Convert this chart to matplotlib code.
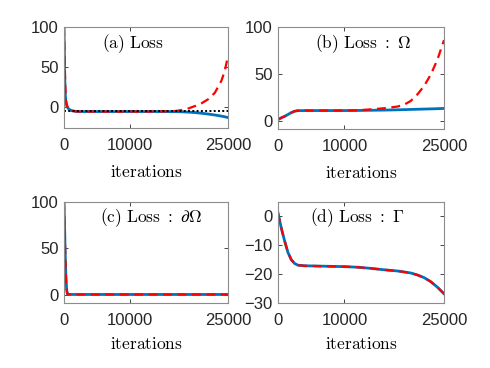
import matplotlib
matplotlib.use("Agg")
import matplotlib.pyplot as plt

plt.rcParams["mathtext.fontset"] = "cm"
plt.rcParams["font.family"] = ["Liberation Sans", "DejaVu Sans"]

BLUE = "#0072BD"
RED = "#FF0000"
GRAY = "#262626"

# ---------------------------------------------------------------------------
# data
# ---------------------------------------------------------------------------
# (a) total loss
iters_a = [0, 100, 200, 300, 500, 800, 1200, 2000, 4000, 8000, 12000, 15000,
           17000, 18000, 19000, 20000, 21000, 22000, 23000, 24000, 24500, 25000]
loss_a_blue = [100, 40, 15, 5, 0, -3, -4.5, -5.5, -5.5, -5.5, -5.5, -5.5,
               -5.6, -5.8, -6.2, -6.8, -7.6, -8.6, -9.8, -11.2, -12.0, -13.0]
loss_a_red = [100, 60, 25, 8, 1, -3, -4.5, -5.5, -5.5, -5.5, -5.5, -5.3,
              -4.8, -3.5, -1.5, 1.5, 5, 10, 18, 33, 45, 64]
loss_a_ref = -5

# (b) loss on Omega
iters_b = [0, 500, 1000, 1500, 2000, 2500, 3000, 4000, 6000, 8000, 10000,
           12000, 14000, 16000, 18000, 19000, 20000, 21000, 22000, 23000,
           24000, 25000]
loss_b_blue = [1, 3, 4.5, 6.5, 8.5, 10, 10.6, 10.7, 10.7, 10.7, 10.7, 10.8,
               11, 11.2, 11.5, 11.7, 11.9, 12.1, 12.3, 12.5, 12.7, 13]
loss_b_red = [1, 3, 4.5, 6.5, 8.5, 10, 10.6, 10.7, 10.7, 10.7, 10.8, 11,
              12, 13.2, 15, 17, 21, 28, 37, 49, 65, 86]

# (c) loss on boundary
iters_c = [0, 100, 200, 300, 400, 500, 700, 1000, 25000]
loss_c = [100, 70, 40, 18, 6, 1, 0.3, 0.2, 0.2]

# (d) loss on Gamma
iters_d = [0, 300, 600, 1000, 1500, 2000, 2500, 3000, 4000, 6000, 8000,
           10000, 12000, 14000, 16000, 18000, 20000, 21000, 22000, 23000,
           24000, 25000]
loss_d = [1.2, -2, -5, -8.5, -12.5, -15, -16.3, -16.9, -17.1, -17.2, -17.3,
          -17.4, -17.6, -18, -18.5, -18.9, -19.6, -20.3, -21.2, -22.6, -24.5,
          -26.8]

xticks = [0, 10000, 25000]

fig = plt.figure(figsize=(4.9, 3.68), dpi=100)

W, H = 490.0, 368.0
boxes = {
    "a": (64, 27, 228, 128),
    "b": (278, 27, 444, 129),
    "c": (64, 202, 228, 303),
    "d": (278, 202, 444, 303),
}


def make_axes(key):
    l, t, r, b = boxes[key]
    ax = fig.add_axes([l / W, 1 - b / H, (r - l) / W, (b - t) / H])
    ax.tick_params(direction="in", top=True, right=True, length=3,
                   width=0.6, colors=GRAY, labelsize=12)
    ax.tick_params(axis="x", pad=7)
    ax.tick_params(axis="y", pad=4)
    for s in ax.spines.values():
        s.set_color("0.55")
        s.set_linewidth(0.8)
    ax.set_xlim(0, 25000)
    ax.set_xticks(xticks)
    return ax


def label(ax, title, tx, ty, ly):
    ax.text(tx, ty, title, transform=ax.transAxes, ha="center", va="center",
            fontsize=12.5)
    ax.set_xlabel(r"$\mathrm{iterations}$", fontsize=12.5, va="center")
    ax.xaxis.set_label_coords(0.5, ly)


# (a)
ax = make_axes("a")
ax.plot(iters_a, loss_a_blue, color=BLUE, lw=2)
ax.plot(iters_a, loss_a_red, color=RED, lw=1.6, ls=(0, (4, 2.5)))
ax.axhline(loss_a_ref, color="k", lw=1.4, ls=(0, (1, 1.2)))
ax.set_ylim(-26, 100)
ax.set_yticks([0, 50, 100])
label(ax, r"$\mathrm{(a)\ Loss}$", 0.42, 0.84, -0.435)

# (b)
ax = make_axes("b")
ax.plot(iters_b, loss_b_blue, color=BLUE, lw=2)
ax.plot(iters_b, loss_b_red, color=RED, lw=1.6, ls=(0, (4, 2.5)))
ax.set_ylim(-9, 100)
ax.set_yticks([0, 50, 100])
label(ax, r"$\mathrm{(b)\ Loss\ :\ }\Omega$", 0.51, 0.84, -0.43)

# (c)
ax = make_axes("c")
ax.plot(iters_c, loss_c, color=BLUE, lw=2)
ax.plot(iters_c, loss_c, color=RED, lw=1.6, ls=(0, (4, 2.5)))
ax.set_ylim(-9, 100)
ax.set_yticks([0, 50, 100])
label(ax, r"$\mathrm{(c)\ Loss\ :\ }\partial\Omega$", 0.53, 0.85, -0.406)

# (d)
ax = make_axes("d")
ax.plot(iters_d, loss_d, color=BLUE, lw=2)
ax.plot(iters_d, loss_d, color=RED, lw=1.6, ls=(0, (4, 2.5)))
ax.set_ylim(-30, 5)
ax.set_yticks([-30, -20, -10, 0])
label(ax, r"$\mathrm{(d)\ Loss\ :\ }\Gamma$", 0.48, 0.85, -0.406)

fig.savefig("out.png", dpi=100)
